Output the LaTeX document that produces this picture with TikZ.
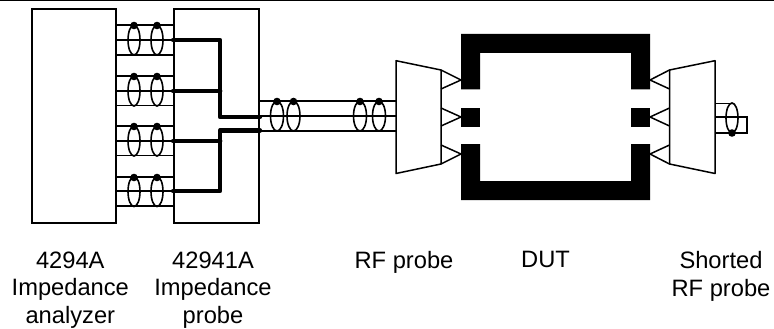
\documentclass[tikz,border=0pt]{standalone}
\usepackage{fontspec}
\setmainfont{Liberation Sans}
\usepackage{xcolor}
\usepackage{tikz}
\tikzset{
  devbox/.style={draw,line width=1.6pt,inner sep=0pt},
  wire/.style={line width=1.4pt},
  bus/.style={line width=4.8pt,line cap=round,line join=round},
  ring/.style={line width=1.6pt},
  probeline/.style={line width=1.5pt,line join=round},
  caption/.style={font=\fontsize{23.7}{27.7}\selectfont,align=center,inner sep=0pt,anchor=north}
}
\begin{document}
\begin{tikzpicture}[x=1pt,y=-1pt]
  \useasboundingbox (0,0) rectangle (774,329);
  % Rand oben
  \draw[line width=1pt] (0,0.5) -- (774,0.5);
  % Geraete
  \node[devbox,minimum width=84pt,minimum height=214pt] (analyzer) at (74,116) {};
  \node[devbox,minimum width=85pt,minimum height=214pt] (impprobe) at (216.5,116) {};
  % Vierleiter-Kabel
  \draw[wire] (analyzer.east |- 0,25) -- (impprobe.west |- 0,25);
  \draw[wire] (analyzer.east |- 0,40) -- (impprobe.west |- 0,40);
  \draw[wire] (analyzer.east |- 0,55) -- (impprobe.west |- 0,55);
  \draw[wire] (analyzer.east |- 0,76) -- (impprobe.west |- 0,76);
  \draw[wire] (analyzer.east |- 0,91) -- (impprobe.west |- 0,91);
  \draw[wire] (analyzer.east |- 0,105.5) -- (impprobe.west |- 0,105.5);
  \draw[wire] (analyzer.east |- 0,126) -- (impprobe.west |- 0,126);
  \draw[wire] (analyzer.east |- 0,141) -- (impprobe.west |- 0,141);
  \draw[wire] (analyzer.east |- 0,155.5) -- (impprobe.west |- 0,155.5);
  \draw[wire] (analyzer.east |- 0,177) -- (impprobe.west |- 0,177);
  \draw[wire] (analyzer.east |- 0,191) -- (impprobe.west |- 0,191);
  \draw[wire] (analyzer.east |- 0,206) -- (impprobe.west |- 0,206);
  % Schirmringe
  \draw[ring] (134,40) ellipse (6 and 15) (157,40) ellipse (6 and 15);
  \draw[ring] (134,91) ellipse (6 and 15) (157,91) ellipse (6 and 15);
  \draw[ring] (134,141) ellipse (6 and 15) (157,141) ellipse (6 and 15);
  \draw[ring] (134,191.5) ellipse (6 and 15) (157,191.5) ellipse (6 and 15);
  \fill (134,25.5) circle (3.8) (157,25.5) circle (3.8);
  \fill (134,76.5) circle (3.8) (157,76.5) circle (3.8);
  \fill (134,126.5) circle (3.8) (157,126.5) circle (3.8);
  \fill (134,177.5) circle (3.8) (157,177.5) circle (3.8);
  % Sammelleitungen in der Probe
  \draw[bus] (impprobe.west |- 0,40) -- (220,40) -- (220,117) -- (impprobe.east |- 0,117);
  \draw[bus] (impprobe.west |- 0,91) -- (220,91);
  \draw[bus] (impprobe.west |- 0,141) -- (220,141);
  \draw[bus] (impprobe.west |- 0,191) -- (220,191) -- (220,130.5) -- (impprobe.east |- 0,130.5);
  % RF-Kabel
  \coordinate (probein1) at (396,101);
  \coordinate (probein2) at (396,116);
  \coordinate (probein3) at (396,131);
  \draw[wire] (impprobe.east |- probein1) -- (probein1);
  \draw[wire] (impprobe.east |- probein2) -- (probein2);
  \draw[wire] (impprobe.east |- probein3) -- (probein3);
  \draw[ring] (277,116) ellipse (6.5 and 15) (293.5,116) ellipse (6.5 and 15);
  \draw[ring] (360,116) ellipse (6.5 and 15) (379,116) ellipse (6.5 and 15);
  \fill (277,101.5) circle (3.8) (293.5,101.5) circle (3.8);
  \fill (360,101.5) circle (3.8) (379,101.5) circle (3.8);
  % RF-Probe links
  \draw[probeline,fill=white] (396,60.7) -- (441,70) -- (441,164) -- (396,173.5) -- cycle;
  \draw[probeline] (441,70) -- (461,80) -- (441,89);
  \draw[probeline] (441,108) -- (461,117) -- (441,126);
  \draw[probeline] (441,145) -- (461,154) -- (441,164);
  % DUT
  \fill (461,34) -- (650,34) -- (650,89.5) -- (631,89.5) -- (631,53) -- (480,53)
    -- (480,89.5) -- (461,89.5) -- cycle;
  \fill (461,108) rectangle (480,127);
  \fill (631,108) rectangle (650,127);
  \fill (461,144) -- (480,144) -- (480,181) -- (631,181) -- (631,144) -- (650,144)
    -- (650,200) -- (461,200) -- cycle;
  % RF-Probe rechts, kurzgeschlossen
  \draw[probeline,fill=white] (715,60.7) -- (669.5,70) -- (669.5,164) -- (715,173.5) -- cycle;
  \draw[probeline] (669.5,70) -- (650,80) -- (669.5,89);
  \draw[probeline] (669.5,108) -- (650,117) -- (669.5,126);
  \draw[probeline] (669.5,145) -- (650,154) -- (669.5,164);
  \draw[wire] (715,103.5) -- (732,103.5);
  \draw[wire] (715,117) -- (747,117) -- (747,133) -- (715,133);
  \draw[ring] (732,118) ellipse (6 and 15);
  \fill (732,133) circle (3.8);
  % Beschriftung
  \node[caption] (lblanalyzer) at (70.3,251.5) {4294A\\Impedance\\analyzer};
  \node[caption] (lblimpprobe) at (213,251.5) {42941A\\Impedance\\probe};
  \node[caption] (lblrfprobe) at (404,251.5) {RF probe};
  \node[caption] (lbldut) at (545.5,250.5) {DUT};
  \node[caption] (lblshorted) at (721,251) {Shorted\\RF probe};
\end{tikzpicture}
\end{document}
